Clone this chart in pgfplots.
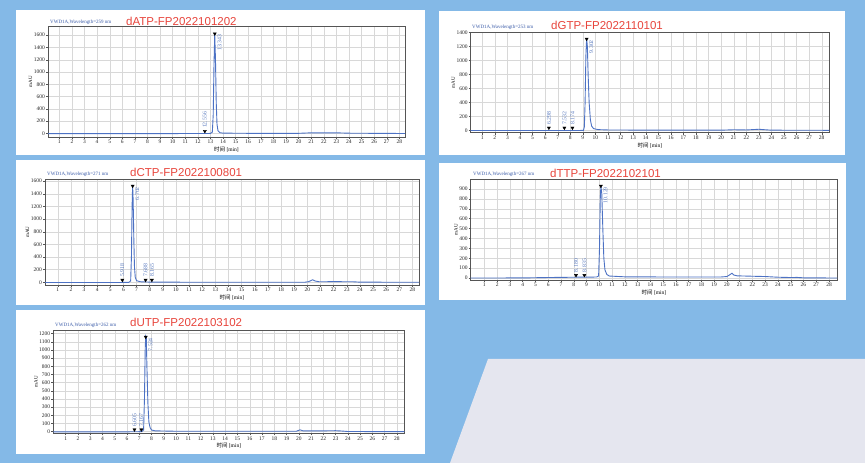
\documentclass[border=0pt]{standalone}
\usepackage{fontspec}
\setmainfont{Liberation Serif}
\newfontfamily\sansf{Liberation Sans}
\newfontfamily\cjk{Noto Sans CJK SC}
\usepackage{pgfplots}
\pgfplotsset{compat=1.18}
\definecolor{bgblue}{HTML}{84B9E7}
\definecolor{bggray}{HTML}{E5E6EF}
\definecolor{lineblue}{HTML}{4D72C4}
\definecolor{lblue}{HTML}{5A7BC0}
\definecolor{hdrblue}{HTML}{3A5BA8}
\definecolor{titred}{HTML}{E8453C}
\definecolor{gridc}{HTML}{D8D8D8}
\definecolor{axc}{HTML}{555555}
\pgfplotsset{
  chrom/.style={scale only axis, anchor=south west, xtick={1,...,28},
    xmajorgrids, ymajorgrids, major grid style={draw=gridc, line width=0.4pt},
    axis line style={draw=axc, line width=0.6pt},
    tick align=outside, major tick length=2pt, tick pos=left,
    tick style={draw=axc, line width=0.4pt},
    ticklabel style={font=\fontsize{5.5}{6}\selectfont, text=black!85, inner sep=1pt},
    /pgf/number format/assume math mode=true,
    /pgf/number format/1000 sep={},
    xlabel={{\cjk 时间} [min]}, ylabel={mAU},
    xlabel style={font=\fontsize{5.5}{6}\selectfont, yshift=1.5pt},
    ylabel style={font=\fontsize{5}{6}\selectfont, yshift=-3pt},
    clip=false},
  trace/.style={draw=lineblue, line width=0.9pt, no marks},
  pk/.style={only marks, mark=triangle*, mark size=1.8pt,
    mark options={rotate=180, fill=black, draw=black},
    point meta=explicit symbolic, nodes near coords,
    nodes near coords style={rotate=90, anchor=west, inner xsep=3pt, inner ysep=0pt,
      font=\fontsize{5.8}{6}\selectfont, text=lblue}},
  mainpk/.style={only marks, mark=triangle*, mark size=1.8pt,
    mark options={rotate=180, fill=black, draw=black},
    point meta=explicit symbolic, nodes near coords,
    nodes near coords style={rotate=90, anchor=north east, inner xsep=1pt, inner ysep=2.5pt,
      font=\fontsize{5.8}{6}\selectfont, text=lblue}},
}
\begin{document}
\begin{tikzpicture}
\path[use as bounding box] (0pt,0pt) rectangle (865pt,463pt);
\fill[bgblue] (0pt,0pt) rectangle (865pt,463pt);
\fill[bggray] (450pt,0pt) -- (488pt,104pt) -- (865pt,104pt) -- (865pt,0pt) -- cycle;
% white panels
\fill[white] (16pt,308pt) rectangle (425pt,453pt);
\fill[white] (439pt,308pt) rectangle (845pt,452pt);
\fill[white] (16pt,158pt) rectangle (425pt,303pt);
\fill[white] (439pt,163pt) rectangle (846pt,300pt);
\fill[white] (16pt,9pt) rectangle (425pt,153pt);
% headers
\node[anchor=west, inner sep=0pt, font=\fontsize{5}{6}\selectfont, text=hdrblue] at (50pt,441pt) {VWD1A,Wavelength=259 nm};
\node[anchor=west, inner sep=0pt, font=\sansf\fontsize{11.5}{13}\selectfont, text=titred] at (126pt,442pt) {dATP-FP2022101202};
\node[anchor=west, inner sep=0pt, font=\fontsize{5}{6}\selectfont, text=hdrblue] at (472pt,436pt) {VWD1A,Wavelength=253 nm};
\node[anchor=west, inner sep=0pt, font=\sansf\fontsize{11.5}{13}\selectfont, text=titred] at (551pt,438pt) {dGTP-FP2022110101};
\node[anchor=west, inner sep=0pt, font=\fontsize{5}{6}\selectfont, text=hdrblue] at (47pt,289pt) {VWD1A,Wavelength=271 nm};
\node[anchor=west, inner sep=0pt, font=\sansf\fontsize{11.5}{13}\selectfont, text=titred] at (130pt,291pt) {dCTP-FP2022100801};
\node[anchor=west, inner sep=0pt, font=\fontsize{5}{6}\selectfont, text=hdrblue] at (473pt,289pt) {VWD1A,Wavelength=267 nm};
\node[anchor=west, inner sep=0pt, font=\sansf\fontsize{11.5}{13}\selectfont, text=titred] at (550pt,290pt) {dTTP-FP2022102101};
\node[anchor=west, inner sep=0pt, font=\fontsize{5}{6}\selectfont, text=hdrblue] at (55pt,138pt) {VWD1A,Wavelength=262 nm};
\node[anchor=west, inner sep=0pt, font=\sansf\fontsize{11.5}{13}\selectfont, text=titred] at (130pt,141pt) {dUTP-FP2022103102};

% ---- dATP ----
\begin{axis}[chrom, at={(48pt,326pt)}, width=357pt, height=111pt,
  xmin=0.1, xmax=28.45, ymin=-60, ymax=1750, ytick={0,200,...,1600}]
\addplot[trace] coordinates {(0.1,-5) (5,-5) (10,-4) (12.5,-3) (13.0,-2) (13.15,20) (13.22,300) (13.28,1100) (13.34,1620) (13.40,1200) (13.46,500) (13.52,150) (13.6,40) (13.75,10) (14,3) (16,0) (20,0) (21,8) (23,8) (24,2) (28.45,-3)};
\addplot[pk] coordinates {(12.556,35) [12.556]};
\addplot[mainpk] coordinates {(13.343,1625) [13.343]};
\end{axis}

% ---- dGTP ----
\begin{axis}[chrom, at={(470.7pt,330.3pt)}, width=358.3pt, height=100.4pt,
  xmin=0.08, xmax=28.58, ymin=-34, ymax=1400, ytick={0,200,...,1400}]
\addplot[trace] coordinates {(0.08,-3) (5,-3) (8.8,-2) (9.05,0) (9.12,50) (9.18,400) (9.24,1050) (9.30,1310) (9.36,1200) (9.42,800) (9.5,400) (9.6,150) (9.7,60) (9.85,25) (10.2,10) (11,5) (15,2) (20,2) (21,8) (22,5) (23,15) (23.5,8) (24,2) (28.58,0)};
\addplot[pk] coordinates {(6.298,35) [6.298] (7.532,35) [7.532] (8.174,35) [8.174]};
\addplot[mainpk] coordinates {(9.302,1305) [9.302]};
\end{axis}

% ---- dCTP ----
\begin{axis}[chrom, at={(45pt,178pt)}, width=374pt, height=105.7pt,
  xmin=0.03, xmax=28.5, ymin=-43, ymax=1630, ytick={0,200,...,1600}]
\addplot[trace] coordinates {(0.03,-3) (5.8,-3) (6.4,-2) (6.55,20) (6.61,400) (6.66,1200) (6.70,1540) (6.74,1300) (6.79,700) (6.84,250) (6.9,80) (7.0,25) (7.3,8) (8,3) (12,0) (19.8,0) (20.1,10) (20.4,40) (20.6,20) (20.9,8) (22,10) (23.5,8) (24,2) (28.5,0)};
\addplot[pk] coordinates {(5.918,35) [5.918] (7.688,35) [7.688] (8.165,35) [8.165]};
\addplot[mainpk] coordinates {(6.702,1525) [6.702]};
\end{axis}

% ---- dTTP ----
\begin{axis}[chrom, at={(470.7pt,183pt)}, width=366.6pt, height=101pt,
  xmin=-0.07, xmax=28.65, ymin=-20, ymax=1000, ytick={0,100,...,900}]
\addplot[trace] coordinates {(-0.07,0) (4,1) (6,5) (8,8) (9.8,10) (9.95,20) (10.02,300) (10.08,800) (10.13,930) (10.2,850) (10.28,500) (10.36,200) (10.45,80) (10.6,35) (10.8,20) (12,12) (16,10) (19.5,10) (20,15) (20.25,35) (20.4,48) (20.55,30) (20.8,22) (22,18) (23,15) (24,8) (25,5) (25.5,6) (26,2) (28.65,0)};
\addplot[pk] coordinates {(8.180,28) [8.180] (8.835,28) [8.835]};
\addplot[mainpk] coordinates {(10.129,930) [10.129]};
\end{axis}

% ---- dUTP ----
\begin{axis}[chrom, at={(53.3pt,29.7pt)}, width=351pt, height=103.3pt,
  xmin=-0.01, xmax=28.6, ymin=-20, ymax=1245, ytick={0,100,...,1200}]
\addplot[trace] coordinates {(-0.01,-3) (6,-2) (7.2,0) (7.35,20) (7.42,400) (7.48,1000) (7.52,1170) (7.57,1150) (7.62,800) (7.7,350) (7.78,120) (7.88,50) (8.0,20) (8.3,10) (10,5) (19.8,5) (20.1,22) (20.35,10) (21,10) (22,10) (23,12) (23.5,8) (24,2) (28.6,0)};
\addplot[pk] coordinates {(6.605,25) [6.605] (7.167,25) [7.167]};
\addplot[mainpk] coordinates {(7.524,1160) [7.524]};
\end{axis}
\end{tikzpicture}
\end{document}
